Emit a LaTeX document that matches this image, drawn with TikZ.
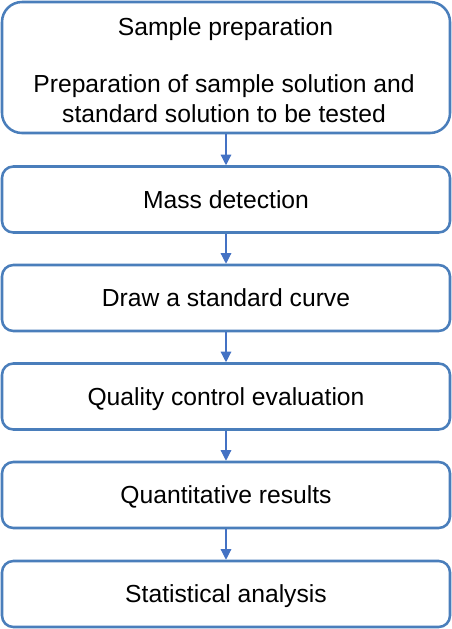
\documentclass[tikz,border=0pt]{standalone}
\usepackage{fontspec}
\setmainfont{Liberation Sans}
\usetikzlibrary{arrows.meta}
\definecolor{boxline}{HTML}{4A7EBB}
\definecolor{arrowc}{HTML}{4472C4}
\tikzset{
  flowfont/.style={font=\fontsize{18.5}{22}\selectfont},
  flowbox/.style={draw=boxline, line width=1.9pt, rounded corners=8.5pt, fill=white, minimum width=336pt, minimum height=49.5pt, inner sep=0pt, align=center, flowfont, text height=13.25pt, text depth=0pt},
  bigbox/.style={draw=boxline, line width=1.9pt, rounded corners=15pt, fill=white, minimum width=336pt, minimum height=98.25pt, inner sep=0pt},
  linetext/.style={flowfont, anchor=base, inner sep=0pt},
  flowarrow/.style={draw=arrowc, line width=0.9pt, -{Triangle[width=8pt,length=8pt]}}
}
\begin{document}
\begin{tikzpicture}[x=0.75pt,y=-0.75pt]
\useasboundingbox (0,0) rectangle (452,629);
\node[bigbox] (b1) at (226,67.5) {};
\node[linetext] (t1) at (225.5,35) {Sample preparation};
\node[linetext] (t2) at (224,92) {Preparation of sample solution and};
\node[linetext] (t3) at (224,122) {standard solution to be tested};
\node[flowbox] (b2) at (226,199.5) {Mass detection};
\node[flowbox] (b3) at (226,298) {Draw a standard curve};
\node[flowbox] (b4) at (226,396.5) {Quality control evaluation};
\node[flowbox] (b5) at (226,495) {Quantitative results};
\node[flowbox] (b6) at (226,594) {Statistical analysis};
\draw[flowarrow] (b1.south) -- (b2.north);
\draw[flowarrow] (b2.south) -- (b3.north);
\draw[flowarrow] (b3.south) -- (b4.north);
\draw[flowarrow] (b4.south) -- (b5.north);
\draw[flowarrow] (b5.south) -- (b6.north);
\end{tikzpicture}
\end{document}
